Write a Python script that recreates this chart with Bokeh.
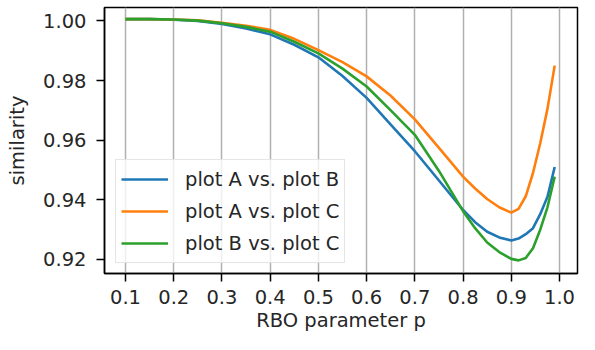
from bokeh.plotting import figure
from bokeh.models import Range1d, FixedTicker, Legend, LegendItem
from bokeh.embed import file_html
from bokeh.resources import INLINE

p_values = [0.1, 0.15, 0.2, 0.25, 0.3, 0.35, 0.4, 0.45, 0.5, 0.55, 0.6, 0.65, 0.7,
            0.75, 0.8, 0.825, 0.85, 0.875, 0.9, 0.915, 0.93, 0.945, 0.96, 0.975, 0.99]

sim_ab = [1.0006, 1.0006, 1.0004, 1.0000, 0.9990, 0.9975, 0.9955, 0.9920, 0.9878,
          0.9815, 0.9742, 0.9652, 0.9563, 0.9465, 0.9366, 0.9325, 0.9293, 0.9274,
          0.9264, 0.9270, 0.9285, 0.9305, 0.9352, 0.9410, 0.9510]
sim_ac = [1.0006, 1.0006, 1.0005, 1.0002, 0.9994, 0.9984, 0.9970, 0.9940, 0.9902,
          0.9862, 0.9814, 0.9749, 0.9670, 0.9574, 0.9478, 0.9438, 0.9403, 0.9375,
          0.9357, 0.9370, 0.9412, 0.9490, 0.9590, 0.9705, 0.9850]
sim_bc = [1.0006, 1.0006, 1.0005, 1.0001, 0.9992, 0.9980, 0.9964, 0.9930, 0.9891,
          0.9840, 0.9780, 0.9700, 0.9618, 0.9497, 0.9362, 0.9305, 0.9257, 0.9225,
          0.9202, 0.9197, 0.9205, 0.9238, 0.9300, 0.9375, 0.9478]

labels = ["plot A vs. plot B", "plot A vs. plot C", "plot B vs. plot C"]
colors = ["#1f77b4", "#ff7f0e", "#2ca02c"]

x_ticks = [0.1, 0.2, 0.3, 0.4, 0.5, 0.6, 0.7, 0.8, 0.9, 1.0]
y_ticks = [0.92, 0.94, 0.96, 0.98, 1.00]

FONT = "DejaVu Sans"
FS = "19.5px"

p = figure(width=579, height=334, output_backend="svg", toolbar_location=None,
           x_range=Range1d(0.05645, 1.0373), y_range=Range1d(0.9153, 1.0045),
           min_border_left=104, min_border_right=2, min_border_top=7, min_border_bottom=60)

p.background_fill_color = "white"
p.border_fill_color = "white"
p.outline_line_color = "black"
p.outline_line_width = 1.5

renderers = []
for ys, c in zip([sim_ab, sim_ac, sim_bc], colors):
    r = p.line(p_values, ys, line_color=c, line_width=2.6, line_join="round")
    renderers.append(r)

p.xaxis.ticker = FixedTicker(ticks=x_ticks)
p.yaxis.ticker = FixedTicker(ticks=y_ticks)
p.xaxis.major_label_overrides = {t: f"{t:.1f}" for t in x_ticks}
p.yaxis.major_label_overrides = {t: f"{t:.2f}" for t in y_ticks}

for ax in (p.xaxis[0], p.yaxis[0]):
    ax.axis_line_color = "black"
    ax.axis_line_width = 1.5
    ax.major_tick_line_color = "black"
    ax.major_tick_line_width = 1.5
    ax.major_tick_in = 0
    ax.major_tick_out = 8
    ax.minor_tick_line_color = None
    ax.major_label_text_font = FONT
    ax.major_label_text_font_size = FS
    ax.major_label_text_color = "#262626"
    ax.axis_label_text_font = FONT
    ax.axis_label_text_font_size = FS
    ax.axis_label_text_font_style = "normal"
    ax.axis_label_text_color = "#262626"

p.xaxis.axis_label = "RBO parameter p"
p.yaxis.axis_label = "similarity"
p.xaxis.major_label_standoff = 8
p.yaxis.major_label_standoff = 10
p.xaxis.axis_label_standoff = 2
p.yaxis.axis_label_standoff = 11

p.xgrid.grid_line_color = "#b0b0b0"
p.xgrid.grid_line_width = 1.5
p.ygrid.grid_line_color = None

legend = Legend(items=[LegendItem(label=l, renderers=[r]) for l, r in zip(labels, renderers)],
                location=(11, 10))
legend.label_text_font = FONT
legend.label_text_font_size = FS
legend.label_text_color = "#262626"
legend.glyph_width = 47
legend.glyph_height = 28
legend.label_height = 28
legend.label_standoff = 17
legend.spacing = 4
legend.padding = 5
legend.margin = 0
legend.border_line_color = "#cccccc"
legend.border_line_width = 1.2
legend.background_fill_alpha = 0.8
p.add_layout(legend, "center")

open("out.html", "w").write(file_html(p, INLINE))
